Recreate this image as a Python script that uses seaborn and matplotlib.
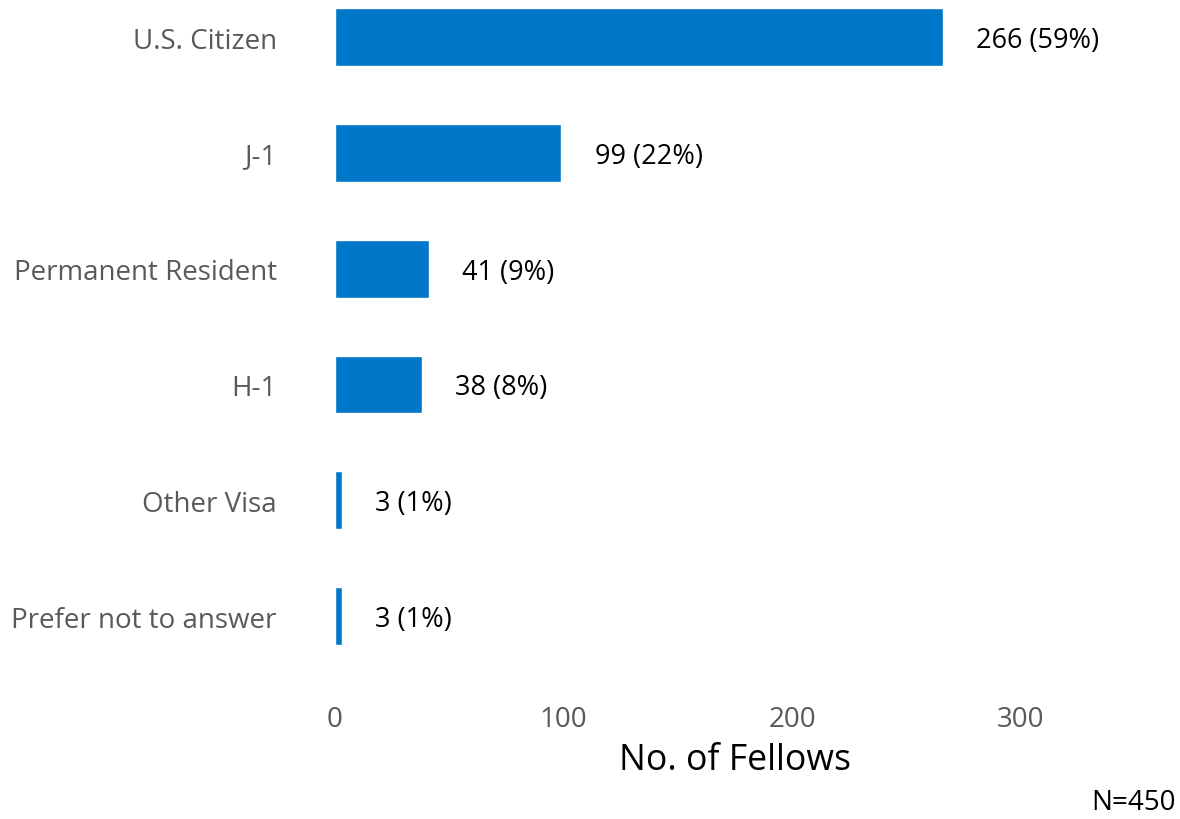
import matplotlib
matplotlib.use("Agg")
import matplotlib.pyplot as plt
import seaborn as sns
import pandas as pd

categories = ["U.S. Citizen", "J-1", "Permanent Resident", "H-1", "Other Visa", "Prefer not to answer"]
counts = [266, 99, 41, 38, 3, 3]
percents = [59, 22, 9, 8, 1, 1]
xticks = [0, 100, 200, 300]
total_n = 450

sns.set_theme(style="white")
plt.rcParams['font.family'] = ['Open Sans', 'DejaVu Sans']

df = pd.DataFrame({"Status": categories, "Count": counts})

fig = plt.figure(figsize=(11.8, 8.2), dpi=100)
ax = fig.add_axes([335/1180, 1 - 675/820, (1135-335)/1180, 675/820])

sns.barplot(data=df, y="Status", x="Count", orient="h", color="#0077C8",
            width=0.5, ax=ax, saturation=1)

ax.set_xlim(0, 350)
ax.set_ylim(5.5, -0.33)
ax.set_xticks(xticks)
ax.set_xticklabels([str(t) for t in xticks])
for s in ax.spines.values():
    s.set_visible(False)
ax.tick_params(axis='y', length=0, pad=42, labelsize=20, labelcolor="#595959")
ax.tick_params(axis='x', length=0, pad=22, labelsize=20, labelcolor="#595959")
ax.set_ylabel("")
ax.set_xlabel("No. of Fellows", fontsize=25.7, color="black", labelpad=7)

for i, (c, p) in enumerate(zip(counts, percents)):
    ax.annotate(f"{c} ({p}%)", xy=(c, i), xytext=(24, -2), textcoords="offset points",
                va="center", ha="left", fontsize=19.5, color="black")

fig.text(1176/1180, 1 - 803/820, f"N={total_n}", ha="right", va="center", fontsize=20, color="black")

fig.savefig("out.png", dpi=100)
